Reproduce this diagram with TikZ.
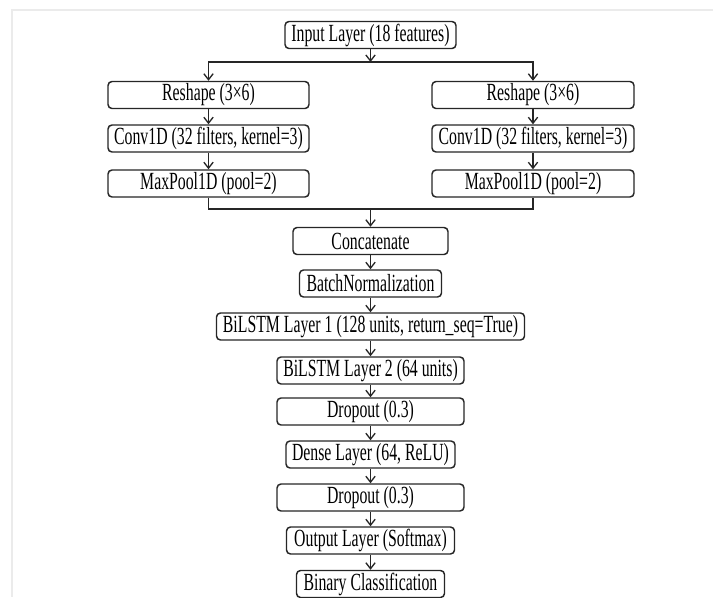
\documentclass[tikz,border=0pt]{standalone}
\usepackage{fontspec}
\setmainfont{Liberation Serif}[FakeStretch=0.64]
\usetikzlibrary{arrows.meta}
\tikzset{
  layerbox/.style={draw=black!85, line width=1.1pt, rounded corners=3pt,
    minimum height=20.25pt, inner sep=0pt, fill=white,
    font=\fontsize{18.5}{18.5}\selectfont},
  bw/.style={minimum width=#1*0.75pt},
  link/.style={draw=black!85, line width=1pt},
  arr/.style={link, -{Straight Barb[length=4.5pt,width=7pt,line width=1pt]}},
}
\begin{document}
\begin{tikzpicture}[x=0.75pt,y=-0.75pt]
\path[use as bounding box] (0,0) rectangle (713,597);
\clip (0,0) rectangle (713,597);
\draw[black!8, line width=0.8pt] (713,10) -- (12,10) -- (12,597);

\node[layerbox, bw=171] (in) at (370.5,35) {Input Layer (18 features)};

\node[layerbox, bw=201] (rL) at (208.5,95) {Reshape (3×6)};
\node[layerbox, bw=201] (cL) at (208.5,138.5) {Conv1D (32 filters, kernel=3)};
\node[layerbox, bw=201] (mL) at (208.5,183.5) {MaxPool1D (pool=2)};

\node[layerbox, bw=202] (rR) at (533,95) {Reshape (3×6)};
\node[layerbox, bw=202] (cR) at (533,138.5) {Conv1D (32 filters, kernel=3)};
\node[layerbox, bw=202] (mR) at (533,183.5) {MaxPool1D (pool=2)};

\node[layerbox, bw=155] (cat) at (370.5,241) {Concatenate};
\node[layerbox, bw=142] (bn) at (370.5,283.5) {BatchNormalization};
\node[layerbox, bw=308] (l1) at (370.5,326.5) {BiLSTM Layer 1 (128 units, return\_seq=True)};
\node[layerbox, bw=187] (l2) at (370.5,370.5) {BiLSTM Layer 2 (64 units)};
\node[layerbox, bw=187] (d1) at (370.5,411.5) {Dropout (0.3)};
\node[layerbox, bw=169] (de) at (370.5,454.5) {Dense Layer (64, ReLU)};
\node[layerbox, bw=187] (d2) at (370.5,497.5) {Dropout (0.3)};
\node[layerbox, bw=168] (out) at (370.5,540.5) {Output Layer (Softmax)};
\node[layerbox, bw=148] (bc) at (370.5,584) {Binary Classification};

\coordinate (split) at (370.5,62);
\coordinate (merge) at (370.5,209);

\draw[arr] (in.south) -- (split);
\draw[link, line cap=rect] (rL.north |- split) -- (rR.north |- split);
\draw[arr] (rL.north |- split) -- (rL.north);
\draw[arr] (rR.north |- split) -- (rR.north);

\draw[arr] (rL) -- (cL);
\draw[arr] (cL) -- (mL);
\draw[arr] (rR) -- (cR);
\draw[arr] (cR) -- (mR);

\draw[link, line join=miter] (mL.south) -- (mL.south |- merge) -- (mR.south |- merge) -- (mR.south);
\draw[arr] (merge) -- (cat.north);

\draw[arr] (cat) -- (bn);
\draw[arr] (bn) -- (l1);
\draw[arr] (l1) -- (l2);
\draw[arr] (l2) -- (d1);
\draw[arr] (d1) -- (de);
\draw[arr] (de) -- (d2);
\draw[arr] (d2) -- (out);
\draw[arr] (out) -- (bc);
\end{tikzpicture}
\end{document}
